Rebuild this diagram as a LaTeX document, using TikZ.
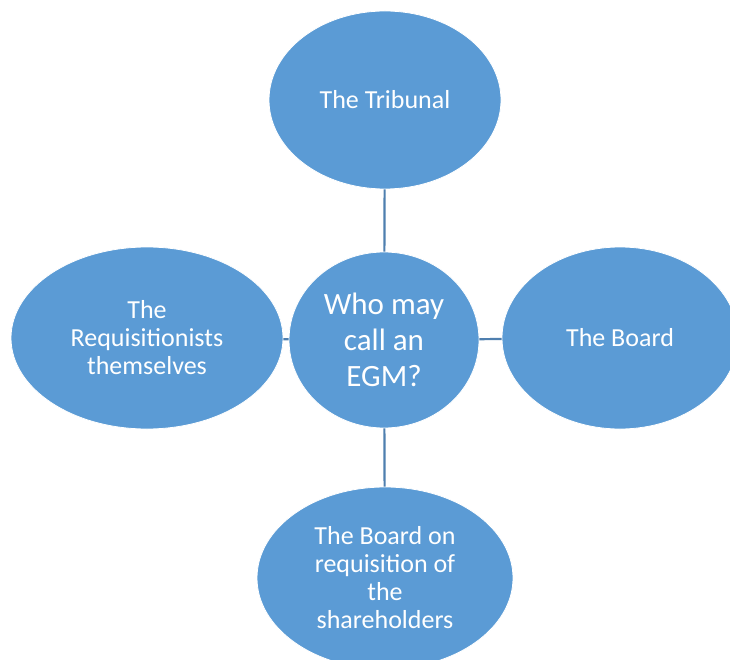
\documentclass[tikz,border=0pt]{standalone}
\usepackage{fontspec}
\setmainfont{Carlito}
\usetikzlibrary{shapes.geometric}
\definecolor{bubble}{HTML}{5B9BD5}
\definecolor{edge}{HTML}{4F7FAF}
\tikzset{
  bub/.style={ellipse, fill=bubble, draw=white, line width=0.8pt, text=white, inner sep=0pt, align=center, font=\fontsize{26}{28}\selectfont},
  link/.style={draw=edge, line width=2.2pt}
}
\begin{document}
\begin{tikzpicture}[x=1pt,y=-1pt]
\useasboundingbox (0,0) rectangle (730,660);
\begin{scope}
\clip (0,0) rectangle (730,660);
\node[bub, minimum width=232, minimum height=178] (trib) at (385,100) {The Tribunal};
\node[bub, minimum width=272, minimum height=182] (req) at (147,338) {The\\Requisitionists\\themselves};
\node[bub, minimum width=236, minimum height=182] (board) at (620,338) {The Board};
\node[bub, minimum width=256, minimum height=182] (share) at (385,578) {The Board on\\requisition of\\the\\shareholders};
\node[bub, minimum width=190, minimum height=176, font=\fontsize{31}{36}\selectfont] (egm) at (384,340) {Who may\\call an\\EGM?};
\draw[link] (trib) -- (egm);
\draw[link] (egm) -- (share);
\draw[link] (req) -- (egm);
\draw[link] (egm) -- (board);
\end{scope}
\end{tikzpicture}
\end{document}
